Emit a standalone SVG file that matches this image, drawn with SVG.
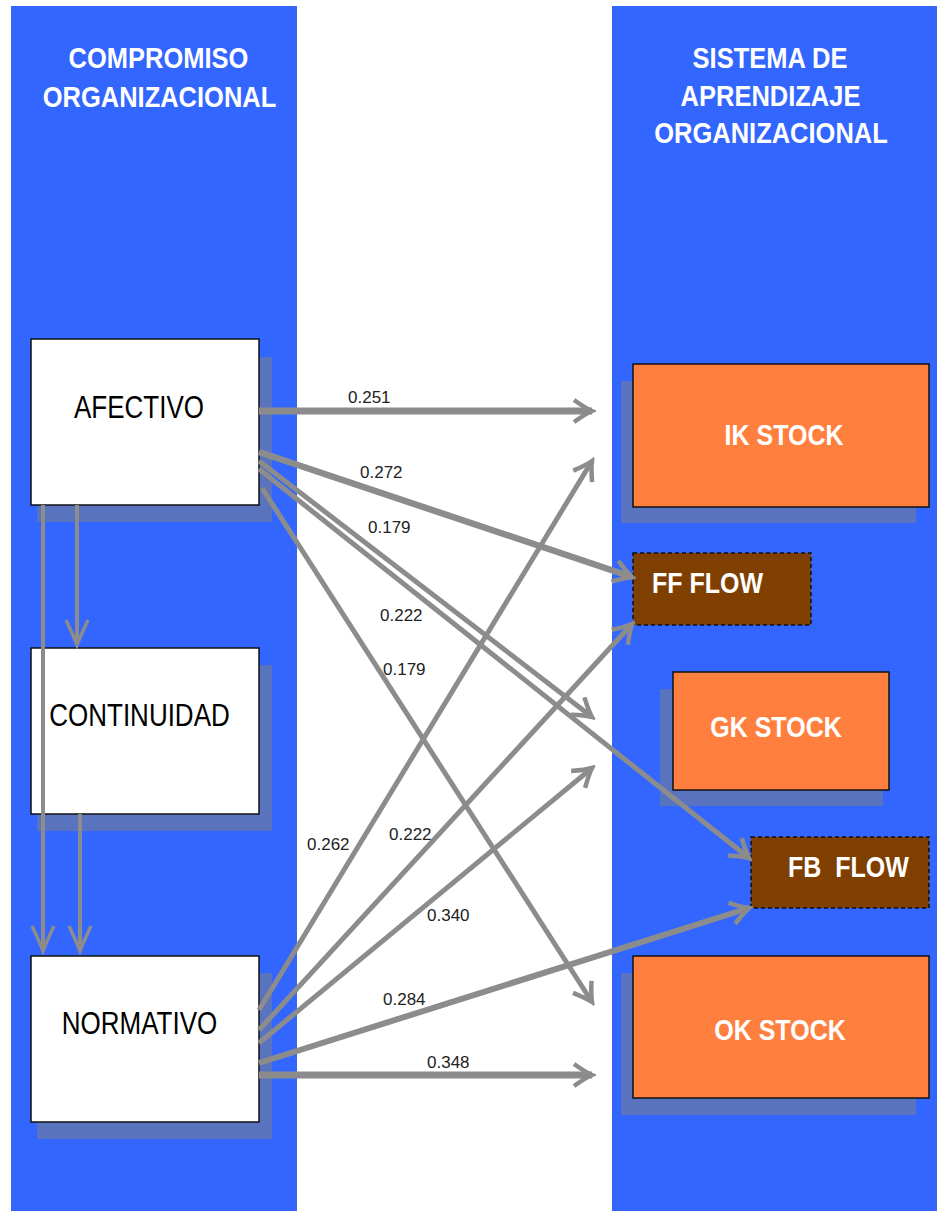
<svg xmlns="http://www.w3.org/2000/svg" width="937" height="1211" viewBox="0 0 937 1211">
<style>
.panel{fill:#3366ff}
.shadow{fill:#5a73bf}
.wbox{fill:#ffffff;stroke:#111;stroke-width:1.5}
.obox{fill:#ff7f3f;stroke:#111;stroke-width:1.5}
.flow{fill:#7f3f00;stroke:#111;stroke-width:1.5;stroke-dasharray:4 3}
.title{font-family:"Liberation Sans",Arial,sans-serif;font-weight:bold;font-size:25.5px;fill:#ffffff;text-anchor:middle}
.blk{font-family:"Liberation Sans",Arial,sans-serif;font-size:26px;fill:#000000;text-anchor:middle}
.wht{font-family:"Liberation Sans",Arial,sans-serif;font-weight:bold;font-size:25px;fill:#ffffff;text-anchor:middle}
.lbl{font-family:"Liberation Sans",Arial,sans-serif;font-size:17px;fill:#222222}
.c{stroke:#8c8c8c;fill:none;stroke-linecap:butt}
</style>
<defs>
<marker id="ah" markerUnits="userSpaceOnUse" viewBox="-24 -14 28 28" refX="0" refY="0" markerWidth="28" markerHeight="28" orient="auto">
<path d="M-18,-11 Q-6,-2.5 0,0 Q-6,2.5 -18,11" fill="none" stroke="#8c8c8c" stroke-width="4.5"/>
</marker>
<marker id="ahs" markerUnits="userSpaceOnUse" viewBox="-28 -14 32 28" refX="0" refY="0" markerWidth="32" markerHeight="28" orient="auto">
<path d="M-25,-11 Q-8,-3 0,0 Q-8,3 -25,11" fill="none" stroke="#8c8c8c" stroke-width="3.5"/>
</marker>
</defs>
<rect width="937" height="1211" fill="#ffffff"/>
<g id="panels">
<rect class="panel" x="11" y="6" width="286" height="1205"/>
<rect class="panel" x="612" y="6" width="325" height="1205"/>
</g>
<g id="title-left">
<text class="title" transform="translate(158.5,68) scale(1,1.18)">COMPROMISO</text>
<text class="title" transform="translate(159.5,107) scale(1,1.18)">ORGANIZACIONAL</text>
</g>
<g id="title-right">
<text class="title" transform="translate(770,68) scale(1,1.18)">SISTEMA DE</text>
<text class="title" transform="translate(770.5,106) scale(1,1.18)">APRENDIZAJE</text>
<text class="title" transform="translate(771,143) scale(1,1.18)">ORGANIZACIONAL</text>
</g>
<g id="afectivo">
<rect class="shadow" x="37" y="357" width="235" height="165"/>
<rect class="wbox" x="31" y="339" width="228" height="166"/>
<text class="blk" transform="translate(139,418) scale(1,1.2)">AFECTIVO</text>
</g>
<g id="continuidad">
<rect class="shadow" x="37" y="665" width="235" height="166"/>
<rect class="wbox" x="31" y="648" width="228" height="166"/>
<text class="blk" transform="translate(139.5,726) scale(1,1.2)">CONTINUIDAD</text>
</g>
<g id="normativo">
<rect class="shadow" x="37" y="973" width="235" height="166"/>
<rect class="wbox" x="31" y="956" width="228" height="166"/>
<text class="blk" transform="translate(139.5,1034) scale(1,1.2)">NORMATIVO</text>
</g>
<g id="ik-stock">
<rect class="shadow" x="621" y="381" width="295" height="142"/>
<rect class="obox" x="633" y="364" width="296" height="143"/>
<text class="wht" transform="translate(784,445) scale(1,1.2)">IK STOCK</text>
</g>
<g id="ff-flow">
<rect class="flow" x="633" y="553" width="178" height="72"/>
<text class="wht" transform="translate(652,593) scale(1,1.2)" style="text-anchor:start">FF FLOW</text>
</g>
<g id="gk-stock">
<rect class="shadow" x="660" y="689" width="223" height="117"/>
<rect class="obox" x="673" y="672" width="216" height="118"/>
<text class="wht" transform="translate(776,737) scale(1,1.2)">GK STOCK</text>
</g>
<g id="fb-flow">
<rect class="flow" x="751" y="837" width="178" height="71"/>
<text class="wht" transform="translate(788,877) scale(1,1.2)" style="text-anchor:start;white-space:pre" xml:space="preserve">FB  FLOW</text>
</g>
<g id="ok-stock">
<rect class="shadow" x="621" y="973" width="295" height="142"/>
<rect class="obox" x="633" y="956" width="296" height="142"/>
<text class="wht" transform="translate(780,1040) scale(1,1.2)">OK STOCK</text>
</g>
<g id="connectors">
<line class="c" x1="43" y1="505" x2="43" y2="951" stroke-width="4" marker-end="url(#ahs)"/>
<line class="c" x1="77" y1="505" x2="77" y2="645" stroke-width="4" marker-end="url(#ahs)"/>
<line class="c" x1="80" y1="814" x2="80" y2="951" stroke-width="4" marker-end="url(#ahs)"/>
<line class="c" x1="259" y1="411" x2="592" y2="411" stroke-width="7" marker-end="url(#ah)"/>
<line class="c" x1="259" y1="452" x2="632" y2="577" stroke-width="6.5" marker-end="url(#ah)"/>
<line class="c" x1="259" y1="461" x2="592" y2="717" stroke-width="5" marker-end="url(#ah)"/>
<line class="c" x1="259" y1="469" x2="749" y2="858" stroke-width="5" marker-end="url(#ah)"/>
<line class="c" x1="262" y1="488" x2="592" y2="1002" stroke-width="5" marker-end="url(#ah)"/>
<line class="c" x1="259" y1="1010" x2="592" y2="461" stroke-width="5" marker-end="url(#ah)"/>
<line class="c" x1="259" y1="1030" x2="632" y2="624" stroke-width="5" marker-end="url(#ah)"/>
<line class="c" x1="259" y1="1043" x2="592" y2="768" stroke-width="5" marker-end="url(#ah)"/>
<line class="c" x1="259" y1="1063" x2="749" y2="908" stroke-width="6" marker-end="url(#ah)"/>
<line class="c" x1="259" y1="1075" x2="592" y2="1075" stroke-width="7" marker-end="url(#ah)"/>
</g>
<g id="labels">
<text class="lbl" x="348" y="403">0.251</text>
<text class="lbl" x="360" y="478">0.272</text>
<text class="lbl" x="368" y="533">0.179</text>
<text class="lbl" x="380" y="621">0.222</text>
<text class="lbl" x="383" y="675">0.179</text>
<text class="lbl" x="307" y="850">0.262</text>
<text class="lbl" x="389" y="840">0.222</text>
<text class="lbl" x="427" y="921">0.340</text>
<text class="lbl" x="383" y="1005">0.284</text>
<text class="lbl" x="427" y="1068">0.348</text>
</g>
</svg>
